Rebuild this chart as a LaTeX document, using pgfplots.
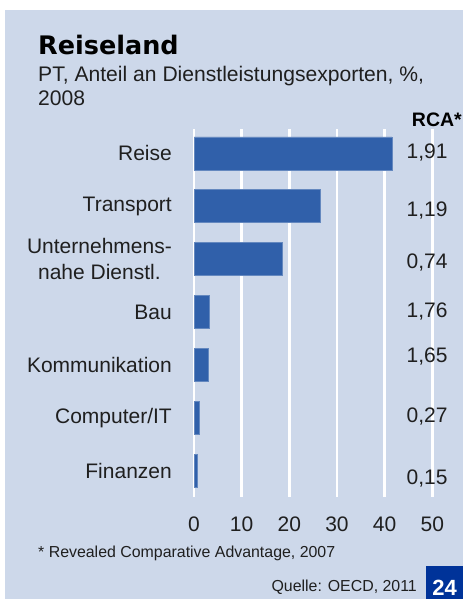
\documentclass[border=0pt]{standalone}
\usepackage{pgfplots}
\pgfplotsset{compat=1.18}
\usepackage{fontspec}
\setmainfont{Liberation Sans}
\newfontfamily\titlefont{DejaVu Sans}
\definecolor{bg}{RGB}{205,216,234}
\definecolor{barblue}{RGB}{48,96,170}
\definecolor{boxblue}{RGB}{0,51,153}
\begin{document}
\begin{tikzpicture}[x=1pt,y=1pt]
\useasboundingbox (0,0) rectangle (463,599);
\fill[white] (0,0) rectangle (463,599);
\fill[bg] (5,0) rectangle (463,589);
\node[anchor=base west, inner sep=0, font=\titlefont\bfseries\fontsize{25.5}{30}\selectfont] at (38,544) {Reiseland};
\node[anchor=base west, inner sep=0, font=\fontsize{21.1}{24}\selectfont, text=black!88] at (38,517) {PT, Anteil an Dienstleistungsexporten, \%,};
\node[anchor=base west, inner sep=0, font=\fontsize{21.1}{24}\selectfont, text=black!88] at (38,493) {2008};
\begin{axis}[
  at={(194pt,102pt)}, anchor=south west,
  scale only axis, width=238.3pt, height=368pt,
  xmin=0, xmax=50, ymin=-0.5, ymax=6.46,
  axis line style={draw=none},
  major tick length=0pt,
  tick style={draw=none},
  xmajorgrids,
  grid style={white, line width=2.5pt},
  xtick={0,10,20,30,40,50},
  ytick={0,1,2,3,4,5,6},
  yticklabels={Finanzen, Computer/IT, Kommunikation, Bau, {Unternehmens-\\nahe Dienstl.}, Transport, Reise},
  yticklabel style={align=center, inner sep=0pt, xshift=-22pt, font=\fontsize{21}{26}\selectfont, text=black!88},
  xticklabel style={inner sep=0pt, yshift=-20pt, font=\fontsize{21}{22}\selectfont, text=black!88},
  /pgf/number format/assume math mode=true,
  clip=false,
]
\addplot[xbar, bar width=33pt, fill=barblue, draw=barblue!75!white] coordinates {
  (41.5,6) (26.4,5) (18.6,4) (3.2,3) (3.0,2) (1.0,1) (0.7,0)};
\addplot[draw=none, mark=none, nodes near coords, point meta=explicit symbolic,
  nodes near coords style={anchor=center, font=\fontsize{21}{22}\selectfont, text=black!88}]
  table[meta=label] {
x y label
48.9 6.008 1,91
48.9 4.911 1,19
48.9 3.927 0,74
48.9 3.000 1,76
48.9 2.149 1,65
48.9 1.014 0,27
48.9 -0.159 0,15
};
\end{axis}
\node[anchor=base east, inner sep=0, font=\bfseries\fontsize{19.5}{22}\selectfont] at (462,472) {RCA*};
\node[anchor=base west, inner sep=0, font=\fontsize{15.9}{18}\selectfont, text=black!88] at (38,41) {* Revealed Comparative Advantage, 2007};
\node[anchor=base east, inner sep=0, font=\fontsize{15.9}{18}\selectfont, text=black!88] at (417,8) {Quelle: OECD, 2011};
\fill[boxblue] (426,0) rectangle (463,33);
\node[anchor=base, inner sep=0, white, font=\bfseries\fontsize{22}{24}\selectfont] at (444.5,4) {24};
\end{tikzpicture}
\end{document}
